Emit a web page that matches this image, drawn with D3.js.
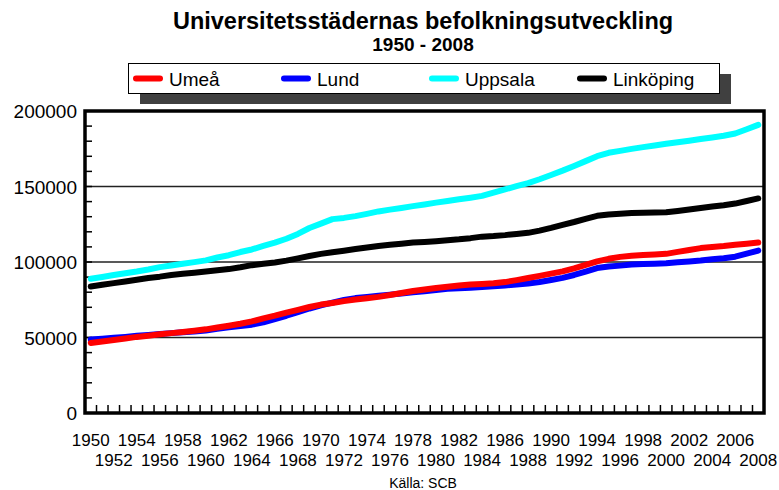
<!DOCTYPE html>
<html>
<head>
<meta charset="utf-8">
<script src="https://cdn.jsdelivr.net/npm/d3@7"></script>
<style>
  body { margin: 0; background: #fff; }
  svg { display: block; font-family: "Liberation Sans", Arial, sans-serif; }
</style>
</head>
<body>
<div class="container"></div>
<script>
const years = [1950,1951,1952,1953,1954,1955,1956,1957,1958,1959,
  1960,1961,1962,1963,1964,1965,1966,1967,1968,1969,
  1970,1971,1972,1973,1974,1975,1976,1977,1978,1979,
  1980,1981,1982,1983,1984,1985,1986,1987,1988,1989,
  1990,1991,1992,1993,1994,1995,1996,1997,1998,1999,
  2000,2001,2002,2003,2004,2005,2006,2007,2008];

const umea = [46400,47400,48400,49400,50400,51200,52100,52900,53700,54500,
  55400,56600,57800,59100,60700,62700,64500,66500,68300,70200,
  71800,72900,74100,75100,76000,76900,78100,79500,80800,81800,
  82800,83600,84400,85100,85500,85900,86700,88000,89400,90800,
  92300,93800,95800,98100,100400,102100,103400,104200,104600,105000,
  105400,106700,108000,109200,110000,110600,111400,112100,112900];

const lund = [48600,49200,49800,50400,51100,51700,52300,52900,53400,53900,
  54700,55700,56700,57600,58500,60000,62200,64400,66800,69200,
  71300,73100,74800,76100,76800,77600,78400,79100,79900,80600,
  81400,82200,82600,82900,83400,83900,84500,85100,85700,86800,
  88100,89500,91400,93700,96000,97000,97600,98300,98600,98900,
  99200,99800,100400,101000,101800,102500,103500,105500,107600];

const uppsala = [88900,90100,91400,92600,93700,95000,96600,97700,98800,99900,
  101100,103000,104500,106600,108300,110600,112800,115400,118600,122500,
  125400,128400,129200,130400,131900,133500,134700,135800,137000,138100,
  139300,140400,141500,142600,143800,146000,148100,150200,152300,154800,
  157600,160500,163600,166800,170100,172300,173600,174900,176100,177200,
  178300,179300,180300,181400,182500,183600,185100,187900,190800];

const linkoping = [83800,84900,86000,87100,88300,89400,90300,91400,92200,92900,
  93700,94500,95300,96500,97900,98800,99700,100900,102400,104000,
  105400,106500,107500,108600,109600,110600,111400,112100,112900,113300,
  113800,114400,115000,115800,116800,117200,117800,118600,119300,120800,
  122600,124600,126500,128600,130600,131500,131900,132400,132600,132700,
  132900,133800,134800,135800,136700,137600,138700,140400,142100];

const seriesNames = ["Umeå", "Lund", "Uppsala", "Linköping"];
const seriesColors = ["#ff0000", "#0000ff", "#00ffff", "#000000"];
const yTicks = [0, 50000, 100000, 150000, 200000];
const yGrid = [50000, 100000, 150000];

const w = 779, h = 490;
const plotLeft = 85, plotRight = 764, plotTop = 111, plotBottom = 413;

const svg = d3.select(".container").append("svg")
  .attr("width", w)
  .attr("height", h);

const x = d3.scaleBand()
  .domain(years)
  .range([plotLeft, plotRight])
  .padding(0);

const y = d3.scaleLinear()
  .domain([0, 200000])
  .range([plotBottom, plotTop]);

// titles
svg.append("text")
  .attr("x", 423).attr("y", 29)
  .attr("text-anchor", "middle")
  .style("font-weight", "bold").style("font-size", "23.5px")
  .text("Universitetsstädernas befolkningsutveckling");

svg.append("text")
  .attr("x", 423).attr("y", 51)
  .attr("text-anchor", "middle")
  .style("font-weight", "bold").style("font-size", "19px")
  .text("1950 - 2008");

// legend with shadow
svg.append("rect")
  .attr("x", 140).attr("y", 74).attr("width", 591).attr("height", 30)
  .attr("fill", "#404040");
svg.append("rect")
  .attr("x", 128.5).attr("y", 63.5).attr("width", 591).attr("height", 30)
  .attr("fill", "#fff").attr("stroke", "#000").attr("stroke-width", 1);

const legend = svg.append("g").selectAll("g")
  .data(seriesNames)
  .enter().append("g")
  .attr("transform", (d, i) => "translate(" + (133 + i * 148) + ",0)");

legend.append("line")
  .attr("x1", 3).attr("x2", 27)
  .attr("y1", 78.5).attr("y2", 78.5)
  .attr("stroke", (d, i) => seriesColors[i])
  .attr("stroke-width", 6)
  .attr("stroke-linecap", "round");

legend.append("text")
  .attr("x", 36).attr("y", 86)
  .style("font-size", "19px")
  .text(d => d);

// gridlines
svg.append("g").selectAll("line")
  .data(yGrid)
  .enter().append("line")
  .attr("x1", plotLeft).attr("x2", plotRight)
  .attr("y1", d => y(d)).attr("y2", d => y(d))
  .attr("stroke", "#222").attr("stroke-width", 1.5);

// y minor ticks every 10000
const yMinor = y.ticks(20);
svg.append("g").selectAll("line")
  .data(yMinor)
  .enter().append("line")
  .attr("x1", plotLeft).attr("x2", plotLeft + 7)
  .attr("y1", d => y(d)).attr("y2", d => y(d))
  .attr("stroke", "#000").attr("stroke-width", 1.5);

// x ticks at category boundaries
svg.append("g").selectAll("line")
  .data(years.slice(1))
  .enter().append("line")
  .attr("x1", d => x(d)).attr("x2", d => x(d))
  .attr("y1", plotBottom).attr("y2", plotBottom - 8)
  .attr("stroke", "#000").attr("stroke-width", 1.5);

// y labels
svg.append("g").selectAll("text")
  .data(yTicks)
  .enter().append("text")
  .attr("x", 77)
  .attr("y", d => y(d) + 7)
  .attr("text-anchor", "end")
  .style("font-size", "19px")
  .text(d => d);

// x labels, every other year, staggered rows
svg.append("g").selectAll("text")
  .data(years.filter((d, i) => i % 2 === 0))
  .enter().append("text")
  .attr("x", d => x(d) + x.bandwidth() / 2)
  .attr("y", (d, i) => i % 2 === 0 ? 446 : 466)
  .attr("text-anchor", "middle")
  .style("font-size", "17px")
  .text(d => d);

// lines (Lund under Umeå)
const line = d3.line()
  .x((d, i) => x(years[i]) + x.bandwidth() / 2)
  .y(d => y(d));

const drawOrder = [
  { values: lund, color: seriesColors[1] },
  { values: umea, color: seriesColors[0] },
  { values: uppsala, color: seriesColors[2] },
  { values: linkoping, color: seriesColors[3] }
];

svg.append("g").selectAll("path")
  .data(drawOrder)
  .enter().append("path")
  .attr("d", d => line(d.values))
  .attr("fill", "none")
  .attr("stroke", d => d.color)
  .attr("stroke-width", 6)
  .attr("stroke-linejoin", "round")
  .attr("stroke-linecap", "round");

// plot frame
svg.append("rect")
  .attr("x", plotLeft).attr("y", plotTop)
  .attr("width", plotRight - plotLeft).attr("height", plotBottom - plotTop)
  .attr("fill", "none")
  .attr("stroke", "#000").attr("stroke-width", 3.5);

svg.append("text")
  .attr("x", 423).attr("y", 488)
  .attr("text-anchor", "middle")
  .style("font-size", "14px")
  .text("Källa: SCB");
</script>
</body>
</html>
